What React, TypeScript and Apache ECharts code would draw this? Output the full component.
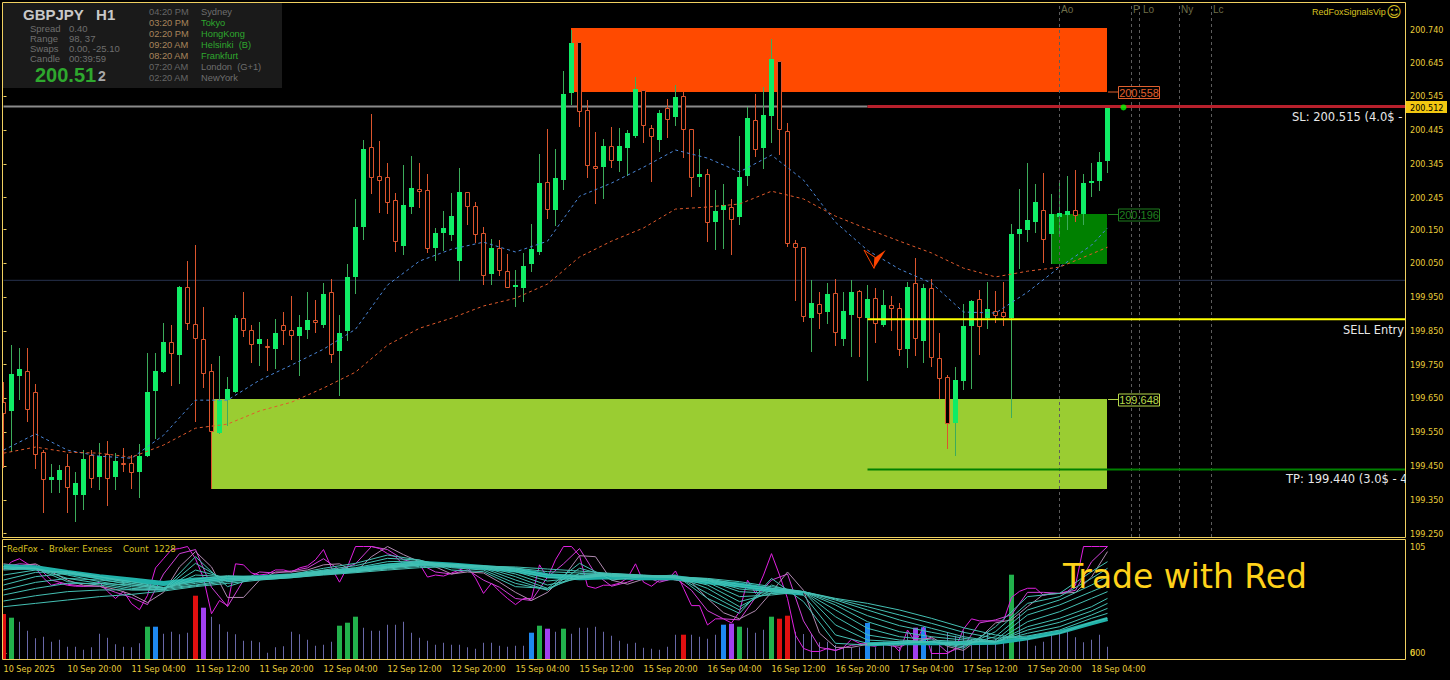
import React, { useEffect, useRef } from "react";
import * as echarts from "echarts";

const tickLabels = ["10 Sep 2025","10 Sep 20:00","11 Sep 04:00","11 Sep 12:00","11 Sep 20:00","12 Sep 04:00","12 Sep 12:00","12 Sep 20:00","15 Sep 04:00","15 Sep 12:00","15 Sep 20:00","16 Sep 04:00","16 Sep 12:00","16 Sep 20:00","17 Sep 04:00","17 Sep 12:00","17 Sep 20:00","18 Sep 04:00"];
const priceTicks = [200.74,200.645,200.545,200.445,200.345,200.245,200.15,200.05,199.95,199.85,199.75,199.65,199.55,199.45,199.35,199.25];

// open, high, low, close per hourly bar
const ohlc = [
[199.639,199.698,199.444,199.606],[199.612,199.808,199.491,199.722],[199.716,199.799,199.645,199.737],[199.731,199.799,199.580,199.618],[199.669,199.693,199.441,199.485],
[199.491,199.497,199.310,199.411],[199.408,199.456,199.370,199.417],[199.408,199.453,199.370,199.438],[199.450,199.485,199.310,199.388],[199.364,199.432,199.284,199.400],
[199.364,199.497,199.319,199.470],[199.482,199.497,199.385,199.414],[199.417,199.518,199.379,199.479],[199.485,199.524,199.331,199.414],[199.417,199.488,199.379,199.465],
[199.459,199.503,199.432,199.456],[199.459,199.482,199.382,199.432],[199.432,199.515,199.355,199.479],[199.479,199.784,199.476,199.669],[199.672,199.784,199.530,199.731],
[199.728,199.873,199.725,199.817],[199.817,199.867,199.687,199.784],[199.778,199.983,199.693,199.980],[199.980,200.057,199.853,199.873],[199.870,200.104,199.580,199.829],
[199.826,199.921,199.681,199.725],[199.731,199.752,199.550,199.553],[199.547,199.775,199.544,199.645],[199.645,199.713,199.568,199.678],[199.669,199.897,199.666,199.888],
[199.888,199.965,199.832,199.853],[199.853,199.867,199.755,199.811],[199.811,199.876,199.746,199.826],[199.805,199.826,199.731,199.802],[199.796,199.885,199.737,199.844],
[199.867,199.906,199.808,199.853],[199.853,199.953,199.764,199.838],[199.835,199.897,199.716,199.861],[199.853,199.965,199.826,199.882],[199.882,199.941,199.844,199.876],
[199.867,199.992,199.858,199.959],[199.965,200.004,199.755,199.781],[199.790,199.897,199.657,199.844],[199.850,200.048,199.820,200.010],[200.010,200.241,199.959,200.158],
[200.158,200.415,200.119,200.389],[200.395,200.492,200.255,200.306],[200.309,200.412,200.199,200.297],[200.306,200.347,200.196,200.232],[200.238,200.258,200.084,200.116],
[200.101,200.341,200.075,200.223],[200.217,200.368,200.196,200.273],[200.270,200.347,200.214,200.264],[200.267,200.315,200.081,200.095],[200.095,200.155,200.057,200.140],
[200.140,200.205,200.087,200.155],[200.134,200.258,200.116,200.190],[200.057,200.332,199.998,200.261],[200.261,200.261,200.164,200.220],[200.220,200.232,200.110,200.137],
[200.140,200.158,199.986,200.015],[200.018,200.122,199.986,200.095],[200.095,200.119,200.012,200.030],[200.027,200.078,199.977,199.980],[199.980,200.030,199.921,199.986],
[199.977,200.081,199.935,200.042],[200.048,200.167,200.024,200.092],[200.084,200.374,200.075,200.288],[200.291,200.448,200.181,200.211],[200.208,200.389,200.161,200.303],
[200.297,200.620,200.267,200.552],[200.555,200.741,200.519,200.703],[200.706,200.706,200.454,200.501],[200.504,200.534,200.303,200.341],[200.338,200.439,200.226,200.332],
[200.335,200.418,200.241,200.398],[200.398,200.454,200.332,200.356],[200.353,200.451,200.321,200.398],[200.392,200.445,200.309,200.436],[200.427,200.602,200.421,200.566],
[200.563,200.563,200.406,200.460],[200.451,200.460,200.291,200.427],[200.415,200.504,200.380,200.495],[200.510,200.537,200.421,200.478],[200.483,200.578,200.457,200.543],
[200.546,200.557,200.362,200.448],[200.448,200.448,200.246,200.306],[200.306,200.389,200.276,200.315],[200.315,200.329,200.113,200.172],[200.172,200.267,200.089,200.205],
[200.208,200.285,200.092,200.223],[200.217,200.241,200.075,200.181],[200.187,200.427,200.164,200.306],[200.309,200.513,200.279,200.480],[200.475,200.552,200.365,200.389],
[200.392,200.572,200.329,200.489],[200.486,200.714,200.406,200.655],[200.649,200.649,200.371,200.448],[200.442,200.466,200.098,200.110],[200.110,200.119,199.938,200.098],
[200.098,200.098,199.876,199.894],[199.888,200.001,199.787,199.933],[199.930,199.965,199.856,199.903],[199.906,199.992,199.870,199.959],[199.962,200.004,199.805,199.847],
[199.826,199.965,199.805,199.909],[199.897,200.001,199.773,199.965],[199.968,199.971,199.773,199.891],[199.888,199.986,199.701,199.944],[199.947,199.977,199.814,199.873],
[199.867,199.971,199.861,199.927],[199.927,199.953,199.850,199.918],[199.918,199.932,199.775,199.796],[199.796,199.995,199.740,199.980],[199.992,200.066,199.775,199.829],
[199.820,199.989,199.755,199.977],[199.977,200.004,199.743,199.773],[199.770,199.844,199.648,199.710],[199.713,199.719,199.500,199.577],[199.577,199.743,199.479,199.704],
[199.701,199.930,199.675,199.864],[199.864,199.941,199.678,199.938],[199.944,199.971,199.778,199.864],[199.888,199.995,199.856,199.915],[199.909,199.968,199.873,199.897],
[199.906,199.995,199.864,199.894],[199.888,200.166,199.592,200.137],[200.137,200.270,200.033,200.152],[200.149,200.347,200.113,200.178],[200.172,200.285,200.140,200.232],
[200.208,200.318,200.051,200.122],[200.137,200.255,200.048,200.196],[200.187,200.297,200.134,200.199],[200.193,200.309,200.149,200.205],[200.208,200.326,200.172,200.193],
[200.196,200.315,200.164,200.288],[200.291,200.347,200.246,200.294],[200.294,200.380,200.264,200.350],[200.353,200.513,200.318,200.513],
];

const sampleBars = [0,4,8,12,16,20,24,28,32,36,40,44,48,52,56,60,64,68,72,76,80,84,88,92,96,100,104,108,112,116,120,124,128,132,136,138];
const maFast = [199.497,199.545,199.497,199.479,199.473,199.541,199.645,199.645,199.704,199.749,199.796,199.855,199.986,200.057,200.092,200.113,200.084,200.116,200.249,200.288,200.335,200.386,200.362,200.321,200.371,200.297,200.172,200.089,200.033,199.992,199.906,199.903,199.965,200.039,200.104,200.155];
const maSlow = [199.488,199.506,199.491,199.488,199.476,199.512,199.562,199.574,199.613,199.639,199.681,199.728,199.808,199.858,199.888,199.924,199.947,199.989,200.069,200.116,200.155,200.211,200.217,200.226,200.264,200.241,200.190,200.152,200.116,200.081,200.036,200.010,200.027,200.039,200.078,200.098];

// zones: first bar, last bar, top price, bottom price, colour
const zones: [number, number, number, number, string][] = [
  [71,138,200.747,200.558,"#ff4a00"],
  [26,138,199.648,199.382,"#9acd32"],
  [131,138,200.196,200.049,"#008000"],
];
// levels: first bar, last bar, price, colour, width
const axisEnd = 175.1875;
const levels: [number, number, number, string, number][] = [
  [0,108,200.515,"#8a8a8a",2],
  [0,axisEnd,200.0,"#26324e",1],
  [108,axisEnd,200.515,"#b8202c",3],
  [108,axisEnd,199.885,"#ffff00",2],
  [108,axisEnd,199.44,"#008000",2],
];
const sessionBars = [132,141,142,147,151];
const sessionNames: [string, number][] = [["Ao",1061],["P",1133],["Lo",1143],["Ny",1181],["Lc",1213]];

const volumes = [450,413,373,283,207,223,173,193,123,123,93,117,253,213,147,123,117,157,323,323,253,273,247,263,633,513,423,347,273,247,183,183,167,63,117,127,273,247,193,133,143,173,333,363,423,313,283,283,343,343,
373,263,213,183,143,163,143,143,117,103,163,163,133,123,133,133,263,333,303,273,303,253,313,313,323,273,233,183,153,163,113,103,93,123,243,243,243,223,203,243,343,353,323,313,263,293,423,403,433,273,
250,250,167,173,140,117,117,117,360,117,167,133,117,273,313,317,133,183,267,233,283,200,200,267,200,233,843,450,233,133,173,250,250,283,217,167,193,243,123];
const volRed = [0,24,85,97,98];
const volGreen = [1,18,42,43,44,67,70,92,96,126];
const volBlue = [19,66,90,108,115];
const volPurple = [25,68,91,114];

const oscRaw = [82,90,93,88,84,74,67,69,67,66,66,67,70,61,54,61,49,43,57,84,93,102,103,105,93,74,39,52,47,88,87,79,77,78,82,82,80,84,86,92,102,84,70,85,105,105,105,103,98,95,
87,90,88,75,77,76,79,82,85,74,59,69,61,54,48,54,54,87,74,92,105,105,96,66,64,67,67,69,74,88,70,66,72,72,81,64,47,47,28,34,34,30,41,72,59,77,98,77,54,18,
5,2,2,5,3,6,14,10,8,7,11,10,2,23,11,26,0,0,0,5,24,34,32,32,32,32,55,61,64,64,57,59,59,61,67,105,105,105,105];
const oscLag1 = [85,88,87,72,68,66,66,60,55,48,78,98,102,65,46,72,80,79,81,84,93,82,88,105,102,92,88,80,78,82,72,65,54,52,75,88,103,78,66,70,76,70,74,62,42,34,33,55,72,78,32,6,3,8,10,9,6,14,15,1,7,30,33,38,60,60,59,62,90,105];
const oscLag2 = [88,86,88,80,72,67,66,63,58,50,60,85,100,85,55,55,72,80,80,82,87,88,80,95,105,97,90,85,78,80,79,70,60,52,60,75,96,95,72,68,73,76,72,70,54,40,34,42,60,80,62,20,6,6,9,9,8,11,16,7,3,15,30,33,46,58,59,60,75,100];

const fan1 = [85.2,83.6,70.5,67.2,62.3,62.3,95,65.6,75.4,77.7,83.6,88.5,96.6,91.7,81.9,80.3,65.6,63.9,88.5,72.1,75.4,77,54.1,39.4,73.7,50.9,10,8.3,10,11.6,5.1,26.3,55.8,59,80.3,90.1];
const fan2 = [83.6,83.6,73.7,68.8,63.9,62.3,88.5,70.5,73.7,77,81.9,86.2,93.4,91.7,84.2,81.9,68.8,62.3,83.6,75.4,75.4,76.4,59,42.7,67.2,57.4,18.2,10,10,11.6,6.7,21.4,49.2,55.8,73.7,83.6];
const fan3 = [81.9,83.6,77,70.5,65.6,62.3,81.9,73.7,73.7,76.4,80.9,84.2,90.1,90.8,85.8,83.6,72.1,62.3,78.6,76.4,75.4,75.4,63.9,45.9,62.3,60.7,28,13.2,11.6,11.6,8.3,16.5,42.7,52.5,67.2,75.4];
const fan4 = [77,81.9,79.6,73.1,67.2,62.9,77,75.4,74.4,76.4,80.3,82.9,87.5,90.1,86.8,84.5,75.4,63.9,75.4,77,75.4,74.7,67.2,50.9,59,60.7,36.1,18.2,13.2,11.6,10,13.2,37.8,47.6,60.7,67.2];
const fan5 = [72.1,79.6,80.3,75.4,68.8,63.9,73.1,76.4,74.7,76.4,79.6,81.9,85.8,89.1,87.5,85.2,78,67.2,73.7,77,75.4,74.4,69.8,55.8,57.4,60.7,42.7,24.7,16.5,13.2,11.6,11.6,31.2,41,54.1,60.7];
const fan6 = [67.2,75.4,78.6,75.4,70.5,64.9,70.5,75.4,75.4,76.4,79,81.3,84.9,88.1,87.5,85.5,80.3,71.1,74.4,77,75.7,74.1,71.5,60.7,59,60.7,47.6,31.2,21.4,16.5,13.2,10.9,26.3,34.5,45.9,54.1];
const fan7 = [62.3,69.8,73.7,72.1,68.8,64.6,68.8,73.7,75.0,76.4,78.6,80.9,84.2,87.5,87.2,85.5,81.6,74.4,75.7,77.4,76,74.4,72.1,63.3,60.7,60.7,50.2,37.1,27.3,20.8,14.9,11.3,23,30.6,41.7,49.2];
const fan8 = [57.4,63.9,68.8,68.8,67.2,63.9,67.2,72.1,74.4,76.4,78.6,80.9,83.9,86.8,86.8,85.8,82.9,77,77,77.7,76.4,74.4,72.8,65.6,62.3,60.7,52.5,42.7,32.9,24.7,16.5,11.6,19.8,26.3,37.8,44.3];
const fan9 = [51.5,56.7,60.7,62.3,62.6,62.6,66.5,70.5,73.1,75.4,77.7,80.3,82.9,85.5,86.2,85.8,83.9,80.3,79,78.3,76.7,75.0,73.4,67.8,63.9,60.7,53.5,45.9,37.8,29.6,20.8,14.9,17.2,23,34.5,39.4];
const fan10 = [45.9,49.2,52.5,55.8,58,61.3,65.6,68.8,72.1,74.4,77,79.3,81.9,84.2,85.2,85.8,84.9,82.9,80.9,78.6,77,75.4,73.7,70.5,65.6,60.7,54.1,49.2,42.7,34.5,25.3,18.2,14.2,19.8,30.6,34.5];
const fans = [fan1,fan2,fan3,fan4,fan5,fan6,fan7,fan8,fan9,fan10];
// dense part of the fan, where its lines merge into one band
const bandUpper: number[][] = [[0,85.2],[4,84.2],[8,79.6],[12,75.4],[16,72.1],[20,68.8],[24,72.1],[28,73.7],[32,74.4],[36,76.4],[40,79.6],[44,81.9],[48,85.8],[52,88.5],[56,86.8],[60,84.5],[64,81.9],[68,76.4],[72,74.4],[76,75.4],[80,74.4],[84,74.4],[88,70.5],[92,67.2],[96,62.3],[100,59]];
const bandLower: number[][] = [[108,9],[112,10],[116,10],[120,10],[124,10.6],[128,14.9],[132,20.8],[136,29.6],[138,33.8]];

const infoRows: [string, string][] = [["Spread","0.40"],["Range","98, 37"],["Swaps","0.00, -25.10"],["Candle","00:39:59"]];
const sessions: [string, string, boolean][] = [["04:20 PM","Sydney",false],["03:20 PM","Tokyo",true],["02:20 PM","HongKong",true],["09:20 AM","Helsinki  (B)",true],["08:20 AM","Frankfurt",true],["07:20 AM","London  (G+1)",false],["02:20 AM","NewYork",false]];

const YELLOW = "#e8cc3a";
const FRAME = "#f0d060";
const UI = "Liberation Sans, Arial, sans-serif";
const AXIS_FONT = "DejaVu Sans Condensed, Liberation Sans, sans-serif";
const GREEN = "#10ec66";
const GREEN_WICK = "#3cac5a";
const RED = "#dc552d";

function txt(x: number, y: number, text: string, fill: string, font: string, align = "left") {
  return { type: "text", x, y, z: 100, silent: true, style: { text, fill, font, align, verticalAlign: "middle" } };
}
function rect(x: number, y: number, width: number, height: number, style: any, z = 90) {
  return { type: "rect", z, silent: true, shape: { x, y, width, height }, style };
}
function tag(top: number, h: number, label: string, color: string) {
  const mid = top + h / 2;
  return [
    { type: "line", z: 95, silent: true, shape: { x1: 1108, y1: mid, x2: 1118, y2: mid }, style: { stroke: color, lineWidth: 1 } },
    rect(1118.5, top + 0.5, 41, h, { fill: "transparent", stroke: color, lineWidth: 1 }, 95),
    txt(1139, mid + 0.5, label, color, `11px ${UI}`, "center"),
  ];
}

function buildGraphics(): any[] {
  const els: any[] = [
    rect(3, 3, 279, 85, { fill: "#1a1a1a" }, 50),
    rect(2.5, 2.5, 1403, 535, { fill: "transparent", stroke: FRAME, lineWidth: 1 }),
    rect(2.5, 539.5, 1403, 120, { fill: "transparent", stroke: FRAME, lineWidth: 1 }),
    txt(23, 14, "GBPJPY   H1", "#c8c8c8", `bold 15px ${UI}`),
    txt(35, 75, "200.51", "#2ea82e", `bold 20px ${UI}`),
    txt(98, 76, "2", "#a8a8a8", `bold 14px ${UI}`),
  ];
  infoRows.forEach(([a, b], k) => {
    els.push(txt(30, 28 + k * 10, a, "#6e6e6e", `9.5px ${UI}`));
    els.push(txt(69, 28 + k * 10, b, "#6e6e6e", `9.5px ${UI}`));
  });
  sessions.forEach(([t, c, open], k) => {
    els.push(txt(149, 12 + k * 11, t, open ? "#a8845a" : "#666666", `9.3px ${UI}`));
    els.push(txt(201, 12 + k * 11, c, open ? "#2ea82e" : "#6e6e6e", `9.3px ${UI}`));
  });
  sessionNames.forEach(([n, x]) => els.push(txt(x, 9, n, "#6e6e4a", `10px ${UI}`)));
  els.push(txt(1312, 12, "RedFoxSignalsVip", "#d8c020", `9px ${UI}`));
  els.push(txt(1394, 12, "☺", "#d8c020", `15px DejaVu Sans`, "center"));
  els.push(...tag(86, 12, "200.558", "#e0602e"));
  els.push(...tag(208.5, 12, "200.196", "#1f7f1f"));
  els.push(...tag(393.5, 12, "199.648", "#b6d84a"));
  els.push(rect(1406, 101, 41, 12, { fill: "#f2c811" }, 95));
  els.push(txt(1410, 107.5, "200.512", "#000000", `9px ${AXIS_FONT}`));
  els.push(txt(1292, 117, "SL: 200.515 (4.0$ -", "#e8e8e8", "11.5px DejaVu Sans"));
  els.push(txt(1343, 330, "SELL Entry", "#e8e8e8", "11.4px DejaVu Sans"));
  els.push(txt(1286, 479, "TP: 199.440 (3.0$ - 4", "#e8e8e8", "11.5px DejaVu Sans"));
  els.push(rect(1406, 473, 12, 12, { fill: "#000" }, 101));
  els.push(txt(7, 548, "RedFox -  Broker: Exness    Count  1228", "#d8c020", `9.5px ${AXIS_FONT}`));
  els.push(txt(1063, 576, "Trade with Red", "#ffd21a", "33px DejaVu Sans"));
  els.push(txt(1410, 653, "600", YELLOW, `9px ${AXIS_FONT}`));
  return els;
}

function renderCandle(_: any, api: any) {
  const i = api.value(0), o = api.value(1), h = api.value(2), l = api.value(3), c = api.value(4);
  const up = c >= o;
  const [x, yo] = api.coord([i, o]);
  const yc = api.coord([i, c])[1], yh = api.coord([i, h])[1], yl = api.coord([i, l])[1];
  const top = Math.round(Math.min(yo, yc)), bot = Math.round(Math.max(yo, yc));
  const wick = { type: "line", shape: { x1: x, y1: Math.round(yh), x2: x, y2: Math.round(yl) }, style: { stroke: up ? GREEN_WICK : RED, lineWidth: 1 } };
  const body = up
    ? { type: "rect", shape: { x: x - 2.5, y: top, width: 5, height: Math.max(bot - top, 2) }, style: { fill: GREEN } }
    : { type: "rect", shape: { x: x - 2, y: top + 0.5, width: 4, height: Math.max(bot - top, 1) }, style: { fill: "#000000", stroke: RED, lineWidth: 1 } };
  return { type: "group", children: [wick, body] };
}
function renderZone(_: any, api: any) {
  const a = api.coord([api.value(0), api.value(2)]);
  const b = api.coord([api.value(1), api.value(3)]);
  return { type: "rect", shape: { x: Math.floor(a[0]), y: Math.round(a[1]), width: Math.ceil(b[0] - a[0]), height: Math.round(b[1]) - Math.round(a[1]) }, style: { fill: zones[api.value(4)][4] } };
}
function colourOf(i: number) {
  if (volRed.includes(i)) return "#e01010";
  if (volGreen.includes(i)) return "#22b14c";
  if (volBlue.includes(i)) return "#1e88f0";
  if (volPurple.includes(i)) return "#a040f0";
  return null;
}
function renderVolume(_: any, api: any) {
  const i = api.value(0);
  const p = api.coord([i, api.value(1)]);
  const b = api.coord([i, 0]);
  const col = colourOf(i);
  const w = col ? 5 : 1;
  return { type: "rect", shape: { x: p[0] - w / 2, y: p[1], width: w, height: b[1] - p[1] }, style: { fill: col || "#6868a8" } };
}
function renderArrow(_: any, api: any) {
  const [x, y] = api.coord([api.value(0), api.value(1)]);
  const pts = (a: number[][]) => a.map(([u, v]) => [x + u, y + v]);
  return {
    type: "group",
    children: [
      { type: "polygon", shape: { points: pts([[-11.5, -9.3], [-0.5, -2], [-1.5, 9]]) }, style: { fill: "#000", stroke: "#ff4500", lineWidth: 1 } },
      { type: "polygon", shape: { points: pts([[-0.5, -2], [10.2, -9.3], [-1.5, 9]]) }, style: { fill: "#ff4500" } },
    ],
  };
}

const sampled = (v: number[]) => sampleBars.map((b, k) => [b, v[k]]);
const even = (v: number[]) => v.map((y, k) => [k * 2, y]);
const PMIN = 199.2397, PMAX = 200.8214;

function buildOption(): any {
  const tickVals = tickLabels.map((_, k) => k * 8);
  const lineBase = { type: "line", showSymbol: false, symbol: "none", silent: true, animation: false };
  const series: any[] = [
    { type: "custom", name: "zones", xAxisIndex: 0, yAxisIndex: 0, z: 1, clip: true, silent: true, renderItem: renderZone, encode: { x: [0, 1], y: [2, 3] }, data: zones.map((z, k) => [z[0], z[1], z[2], z[3], k]) },
    { ...lineBase, name: "zoneEdge", xAxisIndex: 0, yAxisIndex: 0, z: 2, data: [[26, 199.553], [26, 199.382]], lineStyle: { color: RED, width: 1 } },
    ...levels.map((l, k) => ({ ...lineBase, name: "level" + k, xAxisIndex: 0, yAxisIndex: 0, z: 2 + (k > 1 ? 4 : 0), data: [[l[0], l[2]], [l[1], l[2]]], lineStyle: { color: l[3], width: l[4] } })),
    ...sessionBars.map((b, k) => ({ ...lineBase, name: "session" + k, xAxisIndex: 0, yAxisIndex: 0, z: 4, data: [[b, PMIN], [b, PMAX]], lineStyle: { color: "#5c5c5c", width: 1, type: [3, 3] } })),
    { type: "custom", name: "candles", xAxisIndex: 0, yAxisIndex: 0, z: 3, clip: true, silent: true, renderItem: renderCandle, encode: { x: 0, y: [1, 2, 3, 4] }, data: ohlc.map((c, i) => [i, ...c]) },
    { ...lineBase, name: "maFast", xAxisIndex: 0, yAxisIndex: 0, z: 5, data: sampled(maFast), lineStyle: { color: "#4a86d8", width: 1, type: [3, 3] } },
    { ...lineBase, name: "maSlow", xAxisIndex: 0, yAxisIndex: 0, z: 5, data: sampled(maSlow), lineStyle: { color: "#e05a2c", width: 1, type: [3, 3] } },
    { type: "custom", name: "arrow", xAxisIndex: 0, yAxisIndex: 0, z: 7, silent: true, renderItem: renderArrow, encode: { x: 0, y: 1 }, data: [[109, 200.062]] },
    { type: "scatter", name: "bid", xAxisIndex: 0, yAxisIndex: 0, z: 7, silent: true, symbolSize: 6, itemStyle: { color: "#00ff00" }, data: [[140, 200.512]] },
    { type: "custom", name: "volume", xAxisIndex: 1, yAxisIndex: 2, z: 2, clip: true, silent: true, renderItem: renderVolume, encode: { x: 0, y: 1 }, data: volumes.map((v, i) => [i, v]) },
    { ...lineBase, name: "oscRaw", xAxisIndex: 1, yAxisIndex: 1, z: 3, data: oscRaw.map((v, i) => [i, v]), lineStyle: { color: "#e020e0", width: 1 } },
    { ...lineBase, name: "oscLag1", xAxisIndex: 1, yAxisIndex: 1, z: 3, data: even(oscLag1), lineStyle: { color: "#d040d8", width: 1 } },
    { ...lineBase, name: "oscLag2", xAxisIndex: 1, yAxisIndex: 1, z: 3, data: even(oscLag2), lineStyle: { color: "#b08ab0", width: 1 } },
    { ...lineBase, name: "bandUpper", xAxisIndex: 1, yAxisIndex: 1, z: 4, data: bandUpper, lineStyle: { color: "#20b2aa", width: 5 } },
    { ...lineBase, name: "bandLower", xAxisIndex: 1, yAxisIndex: 1, z: 4, data: bandLower, lineStyle: { color: "#20b2aa", width: 4 } },
    ...fans.map((f, k) => ({ ...lineBase, name: "fan" + k, xAxisIndex: 1, yAxisIndex: 1, z: 4, data: sampled(f), lineStyle: { color: "#45c0b4", width: 1 } })),
  ];
  return {
    animation: false,
    backgroundColor: "#000000",
    grid: [
      { left: 3.5, top: 3, width: 1401.5, height: 534 },
      { left: 3.5, top: 540, width: 1401.5, height: 119 },
    ],
    xAxis: [
      { type: "value", gridIndex: 0, min: 0, max: axisEnd, interval: 8, show: false, splitLine: { show: false } },
      {
        type: "value", gridIndex: 1, min: 0, max: axisEnd, interval: 8, splitLine: { show: false },
        axisLine: { show: false },
        axisTick: { show: true, length: 3, customValues: tickVals, lineStyle: { color: FRAME } },
        axisLabel: { customValues: tickVals, formatter: (v: number) => tickLabels[Math.round(v / 8)] ?? "", color: YELLOW, fontFamily: AXIS_FONT, fontSize: 9, align: "left", margin: 5, showMinLabel: true, showMaxLabel: true, hideOverlap: false },
      },
    ],
    yAxis: [
      {
        type: "value", gridIndex: 0, position: "right", min: PMIN, max: PMAX, splitLine: { show: false },
        axisLine: { show: false },
        axisTick: { show: true, length: 3, customValues: priceTicks, lineStyle: { color: FRAME } },
        axisLabel: { customValues: priceTicks, formatter: (v: number) => v.toFixed(3), color: YELLOW, fontFamily: AXIS_FONT, fontSize: 9, margin: 5 },
      },
      {
        type: "value", gridIndex: 1, position: "right", min: -5.4, max: 111.38, splitLine: { show: false },
        axisLine: { show: false },
        axisTick: { show: true, length: 3, customValues: [105, 0], lineStyle: { color: FRAME } },
        axisLabel: { customValues: [105, 0], formatter: (v: number) => String(v), color: YELLOW, fontFamily: AXIS_FONT, fontSize: 9, margin: 5 },
      },
      { type: "value", gridIndex: 1, position: "right", min: 0, max: 1190, show: false, splitLine: { show: false } },
    ],
    series,
    graphic: { elements: buildGraphics() },
  };
}

export default function App() {
  const ref = useRef<HTMLDivElement>(null);
  useEffect(() => {
    if (!ref.current) return;
    const chart = echarts.init(ref.current, undefined, { renderer: "svg" });
    chart.setOption(buildOption());
    return () => chart.dispose();
  }, []);
  return <div ref={ref} style={{ position: "fixed", left: 0, top: 0, width: 1450, height: 680, background: "#000" }} />;
}
